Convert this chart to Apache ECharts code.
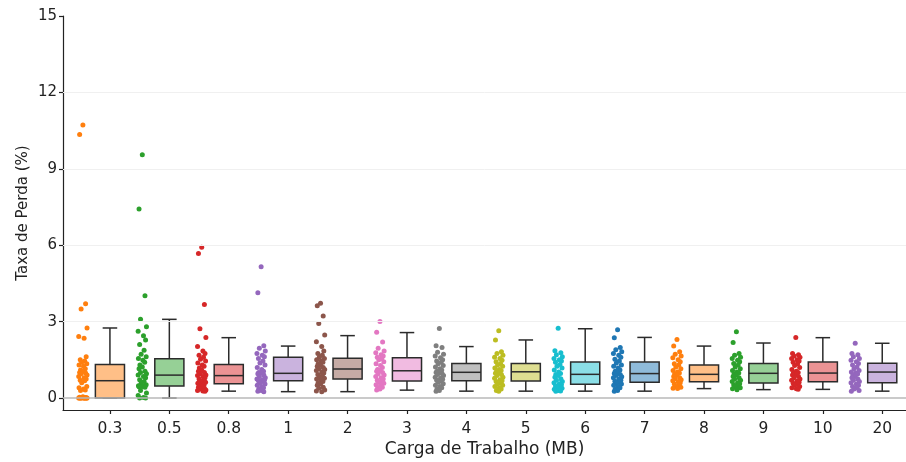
<!DOCTYPE html>
<html><head><meta charset="utf-8">
<script src="https://cdn.jsdelivr.net/npm/echarts@6/dist/echarts.min.js"></script>
<style>html,body{margin:0;padding:0;background:#fff}#c{width:906px;height:462px}</style>
</head><body><div id="c"></div>
<script>
const categories = ['0.3','0.5','0.8','1','2','3','4','5','6','7','8','9','10','20'];
const colors = ['#ff7f0e','#2ca02c','#d62728','#9467bd','#8c564b','#e377c2','#7f7f7f','#bcbd22','#17becf','#1f77b4','#ff7f0e','#2ca02c','#d62728','#9467bd'];
// box stats: [lowerWhisker, Q1, median, Q3, upperWhisker]
const boxStats = [
  [0.00,0.00,0.68,1.32,2.75],
  [0.00,0.47,0.90,1.54,3.09],
  [0.27,0.56,0.88,1.32,2.37],
  [0.25,0.68,0.97,1.60,2.04],
  [0.25,0.75,1.14,1.56,2.45],
  [0.31,0.67,1.07,1.58,2.57],
  [0.27,0.68,1.01,1.36,2.02],
  [0.27,0.67,1.03,1.36,2.28],
  [0.27,0.54,0.93,1.41,2.72],
  [0.27,0.62,0.96,1.41,2.38],
  [0.37,0.64,0.93,1.30,2.04],
  [0.33,0.59,0.97,1.36,2.16],
  [0.34,0.64,0.98,1.41,2.37],
  [0.27,0.60,1.02,1.37,2.15]
];
const points = [
  [10.72,10.35,3.7,3.5,2.75,2.42,2.35,1.62,1.5,1.45,1.4,1.35,1.3,1.25,1.15,1.1,1.05,1.0,0.98,0.95,0.9,0.85,0.8,0.75,0.7,0.68,0.6,0.45,0.4,0.35,0.32,0.3,0.05,0.03,0.02,0.01,0,0,0,0,0,0,0,0,0,0,0,0],
  [9.55,7.42,4.02,3.09,2.8,2.62,2.45,2.28,2.1,1.88,1.72,1.62,1.55,1.48,1.4,1.3,1.22,1.15,1.05,1.0,0.95,0.9,0.85,0.8,0.72,0.65,0.58,0.52,0.48,0.47,0.46,0.45,0.45,0.44,0.42,0.3,0.2,0.1,0.02,0,0],
  [5.92,5.67,3.67,2.72,2.38,2.02,1.85,1.75,1.68,1.6,1.52,1.45,1.38,1.3,1.25,1.18,1.1,1.05,1.0,0.95,0.9,0.88,0.85,0.8,0.75,0.7,0.66,0.62,0.58,0.55,0.52,0.48,0.45,0.42,0.38,0.35,0.32,0.3,0.28,0.27],
  [5.15,4.13,2.05,1.95,1.85,1.75,1.68,1.62,1.55,1.45,1.38,1.3,1.2,1.12,1.05,1.0,0.98,0.95,0.9,0.85,0.8,0.75,0.72,0.7,0.68,0.65,0.6,0.55,0.5,0.45,0.4,0.35,0.3,0.27,0.25],
  [3.72,3.62,3.22,2.93,2.47,2.21,2.02,1.85,1.75,1.68,1.6,1.55,1.5,1.45,1.4,1.35,1.3,1.25,1.2,1.15,1.12,1.08,1.02,0.98,0.92,0.88,0.82,0.78,0.75,0.7,0.65,0.6,0.55,0.5,0.42,0.38,0.32,0.28,0.25],
  [3.0,2.58,2.2,1.95,1.85,1.78,1.7,1.65,1.6,1.55,1.5,1.42,1.35,1.28,1.2,1.12,1.08,1.05,1.0,0.95,0.9,0.85,0.8,0.75,0.7,0.65,0.62,0.58,0.52,0.48,0.42,0.38,0.35,0.32],
  [2.73,2.05,1.98,1.8,1.72,1.65,1.58,1.5,1.45,1.4,1.35,1.28,1.22,1.15,1.1,1.05,1.02,1.0,0.96,0.92,0.88,0.82,0.78,0.74,0.7,0.66,0.62,0.56,0.5,0.45,0.4,0.35,0.3,0.27],
  [2.64,2.28,1.82,1.75,1.68,1.6,1.55,1.48,1.42,1.36,1.3,1.25,1.18,1.12,1.08,1.03,1.0,0.97,0.92,0.88,0.82,0.78,0.72,0.68,0.65,0.6,0.55,0.5,0.45,0.4,0.35,0.3,0.27],
  [2.74,1.86,1.78,1.7,1.62,1.55,1.5,1.45,1.4,1.32,1.25,1.18,1.1,1.02,0.96,0.92,0.88,0.82,0.76,0.7,0.65,0.6,0.56,0.52,0.48,0.45,0.42,0.38,0.34,0.3,0.28,0.27],
  [2.68,2.37,1.98,1.9,1.82,1.75,1.68,1.6,1.52,1.45,1.38,1.3,1.25,1.18,1.1,1.05,1.0,0.96,0.92,0.88,0.84,0.8,0.75,0.7,0.66,0.62,0.58,0.55,0.5,0.45,0.4,0.35,0.3,0.27],
  [2.3,2.04,1.82,1.72,1.65,1.58,1.5,1.42,1.35,1.3,1.22,1.15,1.08,1.02,0.98,0.94,0.9,0.85,0.8,0.76,0.72,0.68,0.64,0.6,0.55,0.5,0.45,0.42,0.38,0.37],
  [2.6,2.18,1.75,1.68,1.6,1.55,1.48,1.42,1.36,1.3,1.22,1.15,1.08,1.02,0.98,0.94,0.9,0.85,0.8,0.75,0.7,0.65,0.6,0.56,0.52,0.48,0.44,0.4,0.36,0.33],
  [2.38,1.75,1.7,1.65,1.6,1.55,1.5,1.45,1.4,1.35,1.28,1.2,1.12,1.05,1.0,0.98,0.94,0.9,0.85,0.8,0.75,0.7,0.66,0.62,0.58,0.54,0.5,0.45,0.4,0.36,0.34],
  [2.15,1.75,1.7,1.62,1.55,1.48,1.42,1.36,1.3,1.22,1.15,1.08,1.02,0.98,0.94,0.9,0.85,0.8,0.75,0.7,0.65,0.6,0.55,0.5,0.45,0.4,0.35,0.3,0.27]
];
const yTicks = [0,3,6,9,12,15];

function hexA(hex, a){
  const r=parseInt(hex.slice(1,3),16),g=parseInt(hex.slice(3,5),16),b=parseInt(hex.slice(5,7),16);
  const m=v=>Math.round(v*a+255*(1-a));
  return 'rgb('+m(r)+','+m(g)+','+m(b)+')';
}

const catIdx = categories.map((c,i)=>i);
const stripOffset = -0.455;
const jitterPattern = [0,-0.055,0.045,-0.03,0.07,-0.07,0.02,0.055,-0.045,0.03,-0.02,0.065,-0.065,0.01,0.04,-0.04];

const series = [];
series.push({
  type:'line', data:[], silent:true,
  markLine:{symbol:'none', silent:true, label:{show:false},
    data:[
      {yAxis:3, lineStyle:{color:'#f0f0f0',width:1,type:'solid'}},
      {yAxis:6, lineStyle:{color:'#f0f0f0',width:1,type:'solid'}},
      {yAxis:9, lineStyle:{color:'#f0f0f0',width:1,type:'solid'}},
      {yAxis:12, lineStyle:{color:'#f0f0f0',width:1,type:'solid'}},
      {yAxis:0, lineStyle:{color:'#b8b8b8',width:1.6,type:'solid'}}
    ]}
});
points.forEach((arr,ci)=>{
  series.push({
    type:'scatter', symbolSize:5, z:3,
    itemStyle:{color:colors[ci], opacity:1},
    data: arr.map((v,k)=>[ci+stripOffset+jitterPattern[k%jitterPattern.length], v])
  });
});
series.push({
  type:'custom', z:4,
  data: boxStats.map((s,i)=>[i].concat(s)),
  renderItem:function(params, api){
    const i=api.value(0);
    const lo=api.coord([i,api.value(1)]), q1=api.coord([i,api.value(2)]), md=api.coord([i,api.value(3)]), q3=api.coord([i,api.value(4)]), hi=api.coord([i,api.value(5)]);
    const unit=api.size([1,0])[0];
    const bw=unit*0.49, cw=bw*0.5;
    const x=lo[0];
    const st={stroke:'#2b2b2b', lineWidth:1.5, fill:null};
    return {type:'group', children:[
      {type:'line', shape:{x1:x,y1:q3[1],x2:x,y2:hi[1]}, style:st},
      {type:'line', shape:{x1:x,y1:q1[1],x2:x,y2:lo[1]}, style:st},
      {type:'line', shape:{x1:x-cw/2,y1:hi[1],x2:x+cw/2,y2:hi[1]}, style:st},
      {type:'line', shape:{x1:x-cw/2,y1:lo[1],x2:x+cw/2,y2:lo[1]}, style:st},
      {type:'rect', shape:{x:x-bw/2,y:q3[1],width:bw,height:q1[1]-q3[1]}, style:{fill:hexA(colors[i],0.5), stroke:'#2b2b2b', lineWidth:1.5}},
      {type:'line', shape:{x1:x-bw/2,y1:md[1],x2:x+bw/2,y2:md[1]}, style:st}
    ]};
  }
});

const chart = echarts.init(document.getElementById('c'), null, {renderer:'canvas'});
chart.setOption({
  animation:false,
  backgroundColor:'#fff',
  grid:{left:63,right:0,top:16,bottom:52,outerBoundsMode:'none',containLabel:false},
  textStyle:{fontFamily:'DejaVu Sans'},
  xAxis:{
    type:'value', min:-0.79, max:13.4,
    name:'Carga de Trabalho (MB)', nameLocation:'middle', nameGap:31, nameMoveOverlap:false,
    nameTextStyle:{fontSize:17,color:'#222',fontFamily:'DejaVu Sans'},
    axisLine:{show:true,onZero:false,lineStyle:{color:'#222',width:1.2}},
    axisTick:{show:true,length:4,customValues:catIdx,lineStyle:{color:'#222',width:1.2}},
    axisLabel:{customValues:catIdx, fontSize:15.5, color:'#222', margin:11, fontFamily:'DejaVu Sans',
      formatter:v=>categories[Math.round(v)]},
    splitLine:{show:false}
  },
  yAxis:{
    type:'value', min:-0.47, max:15,
    name:'Taxa de Perda (%)', nameLocation:'middle', nameGap:32, nameMoveOverlap:false,
    nameTextStyle:{fontSize:15,color:'#222',fontFamily:'DejaVu Sans'},
    axisLine:{show:true,onZero:false,lineStyle:{color:'#222',width:1.2}},
    axisTick:{show:true,length:4,customValues:yTicks,lineStyle:{color:'#222',width:1.2}},
    axisLabel:{customValues:yTicks, fontSize:15, color:'#222', margin:6, fontFamily:'DejaVu Sans'},
    splitLine:{show:false}
  },
  series:series
});
</script></body></html>
